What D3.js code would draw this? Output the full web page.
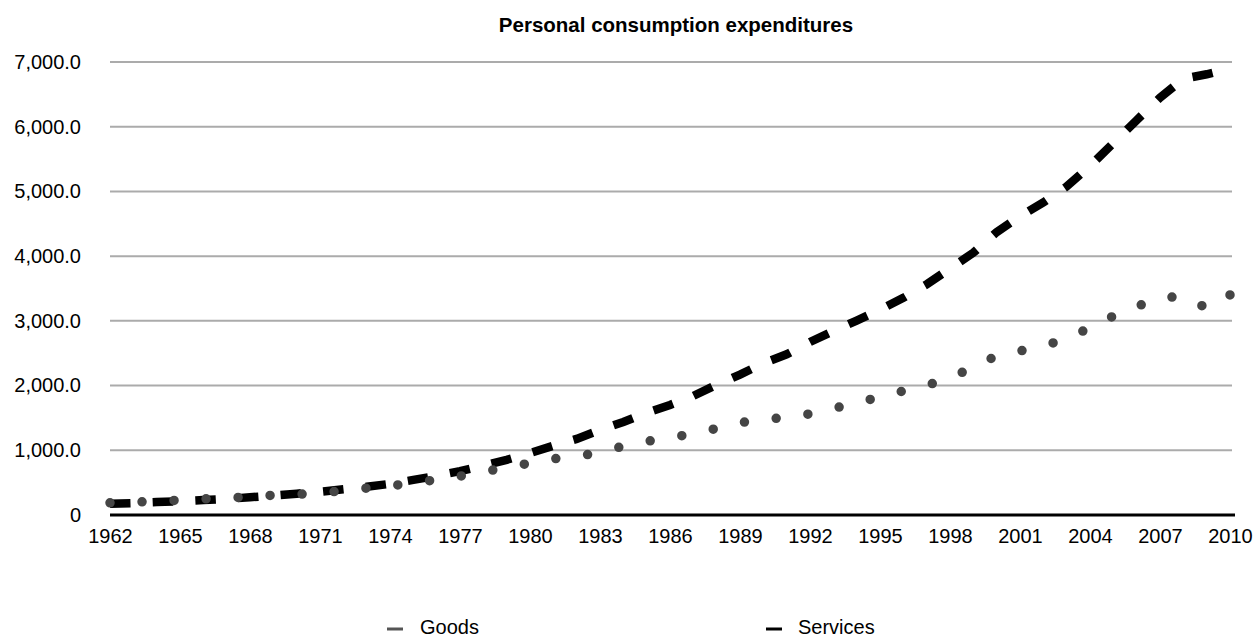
<!DOCTYPE html>
<html>
<head>
<meta charset="utf-8">
<script src="https://cdn.jsdelivr.net/npm/d3@7"></script>
<style>
  html, body { margin: 0; padding: 0; background: #fff; }
  svg { display: block; font-family: "Liberation Sans", Arial, Helvetica, sans-serif; }
</style>
</head>
<body>
<svg id="chart" width="1256" height="637"></svg>
<script>
// Personal consumption expenditures, billions of dollars, 1962-2010
const years = d3.range(1962, 2011);
const goods = [
  189.0, 198.2, 212.3, 229.7, 249.6, 259.0, 284.6, 304.7, 318.8, 342.1,
  373.8, 416.6, 451.5, 491.3, 546.3, 600.4, 663.6, 737.9, 799.8, 869.4,
  899.3, 973.8, 1063.7, 1137.6, 1195.6, 1256.3, 1337.3, 1423.8, 1491.3, 1497.4,
  1563.3, 1642.3, 1746.6, 1815.5, 1917.7, 2006.8, 2110.0, 2290.0, 2459.1, 2534.0,
  2610.0, 2727.4, 2892.0, 3073.9, 3221.7, 3357.7, 3375.7, 3198.4, 3400.0
];
const services = [
  174.4, 184.5, 199.2, 214.1, 231.3, 248.8, 273.4, 300.4, 329.5, 359.5,
  396.4, 435.4, 481.4, 542.5, 605.0, 677.4, 764.0, 853.3, 956.0, 1070.1,
  1176.2, 1314.8, 1437.4, 1580.0, 1701.1, 1840.7, 2012.7, 2170.7, 2344.2, 2482.6,
  2673.6, 2841.2, 3004.3, 3171.7, 3355.9, 3563.9, 3808.5, 4052.8, 4371.2, 4614.8,
  4829.2, 5076.6, 5393.1, 5745.1, 6100.9, 6448.6, 6740.0, 6810.0, 6900.0
];
const yTicks = [0, 1000, 2000, 3000, 4000, 5000, 6000, 7000];
const xTicks = d3.range(1962, 2011, 3);
const seriesNames = ["Goods", "Services"];

const svg = d3.select("#chart");
const x = d3.scaleLinear().domain([1962, 2010]).range([110, 1230]);
const y = d3.scaleLinear().domain([0, 7000]).range([515, 62]);

// title
svg.append("text")
  .attr("x", 676).attr("y", 32)
  .attr("text-anchor", "middle")
  .attr("font-size", 20.5).attr("font-weight", "bold")
  .attr("fill", "#000")
  .text("Personal consumption expenditures");

// horizontal gridlines
svg.append("g")
  .selectAll("line")
  .data(yTicks.filter(d => d > 0))
  .join("line")
  .attr("x1", 110).attr("x2", 1232)
  .attr("y1", d => y(d)).attr("y2", d => y(d))
  .attr("stroke", "#ababab").attr("stroke-width", 2);

// y axis labels
const fmt = d3.format(",.1f");
const yAxis = svg.append("g")
  .attr("transform", "translate(110,0)")
  .call(d3.axisLeft(y).tickValues(yTicks).tickSize(0).tickPadding(29)
    .tickFormat(d => d === 0 ? "0" : fmt(d)));
yAxis.select(".domain").remove();
yAxis.selectAll("text").attr("font-size", 20).attr("fill", "#000")
  .attr("font-family", "Liberation Sans, Arial, Helvetica, sans-serif");

// x axis labels
const xAxis = svg.append("g")
  .attr("transform", "translate(0,515)")
  .call(d3.axisBottom(x).tickValues(xTicks).tickSize(0).tickPadding(14)
    .tickFormat(d3.format("d")));
xAxis.select(".domain").remove();
xAxis.selectAll("text").attr("font-size", 20).attr("fill", "#000")
  .attr("font-family", "Liberation Sans, Arial, Helvetica, sans-serif");

// baseline
svg.append("line")
  .attr("x1", 110).attr("x2", 1235)
  .attr("y1", y(0)).attr("y2", y(0))
  .attr("stroke", "#000").attr("stroke-width", 3);

const line = d3.line()
  .x((d, i) => x(years[i]))
  .y(d => y(d));

// services: heavy dashed line
svg.append("path")
  .datum(services)
  .attr("d", line)
  .attr("fill", "none")
  .attr("stroke", "#000")
  .attr("stroke-width", 8.5)
  .attr("stroke-dasharray", "20.5,22.2")
  .attr("stroke-linecap", "butt");

// goods: round-dot line, dot spacing adjusted so a dot lands on both ends
const goodsPath = svg.append("path")
  .datum(goods)
  .attr("d", line)
  .attr("fill", "none")
  .attr("stroke", "#454545")
  .attr("stroke-width", 9.5)
  .attr("stroke-linecap", "round");
const goodsLen = goodsPath.node().getTotalLength();
const dotStep = goodsLen / Math.round(goodsLen / 31.7);
goodsPath.attr("stroke-dasharray", `0,${dotStep}`);

// legend
const legend = svg.append("g");
const legendItems = [
  { name: seriesNames[0], color: "#555", x1: 387, textX: 420 },
  { name: seriesNames[1], color: "#000", x1: 766, textX: 798 }
];
legend.selectAll("line")
  .data(legendItems)
  .join("line")
  .attr("x1", d => d.x1).attr("x2", d => d.x1 + 16)
  .attr("y1", 629).attr("y2", 629)
  .attr("stroke", d => d.color).attr("stroke-width", 3);
legend.selectAll("text")
  .data(legendItems)
  .join("text")
  .attr("x", d => d.textX).attr("y", 634)
  .attr("font-size", 20).attr("fill", "#000")
  .text(d => d.name);
</script>
</body>
</html>
